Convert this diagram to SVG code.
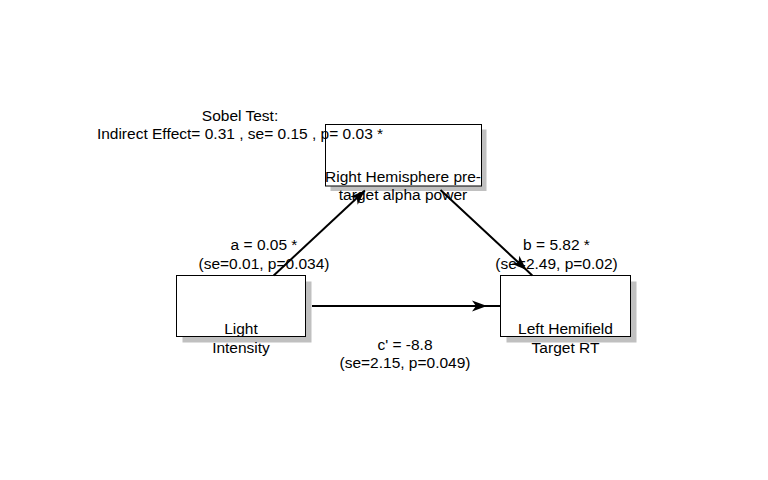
<svg xmlns="http://www.w3.org/2000/svg" width="768" height="480" viewBox="0 0 768 480">
<defs>
<style>
text{font-family:"Liberation Sans",Arial,sans-serif;font-size:15.5px;fill:#000;text-anchor:middle}
.shadow{fill:#c0c0c0;stroke:none}
.box{fill:#fff;stroke:#000;stroke-width:1}
.conn{fill:none;stroke:#000;stroke-width:2}
</style>
<marker id="arr" markerUnits="userSpaceOnUse" markerWidth="20" markerHeight="14" viewBox="-16 -7 17 14" refX="0" refY="0" orient="auto">
<path d="M0,0 L-15,-5.5 L-11,0 L-15,5.5 Z" fill="#000"/>
</marker>
</defs>
<rect width="768" height="480" fill="#fff"/>
<g id="node-mediator">
<rect class="shadow" x="330.5" y="129.5" width="156" height="61.5"/>
<rect class="box" x="325.5" y="124.5" width="156" height="61.5"/>
</g>
<g id="node-x">
<rect class="shadow" x="182.5" y="281.5" width="129" height="61"/>
<rect class="box" x="176.5" y="275.5" width="129" height="61"/>
</g>
<g id="node-y">
<rect class="shadow" x="506.5" y="281.5" width="130" height="61"/>
<rect class="box" x="500.5" y="275.5" width="130" height="61"/>
</g>
<g id="connectors">
<path class="conn" d="M273.7,275.5 L364.9,190.5" marker-end="url(#arr)"/>
<path class="conn" d="M440.5,190 L526.5,270 L532.3,275.5" marker-mid="url(#arr)"/>
<path class="conn" d="M312,306 L487,306 L500,306" marker-mid="url(#arr)"/>
</g>
<g id="labels">
<text x="240" y="120.5">Sobel Test:</text>
<text x="240" y="139.3">Indirect Effect= 0.31 , se= 0.15 , p= 0.03 *</text>
<text x="403" y="182">Right Hemisphere pre-</text>
<text x="403" y="200">target alpha power</text>
<text x="241" y="334">Light</text>
<text x="241" y="352.5">Intensity</text>
<text x="565.5" y="334">Left Hemifield</text>
<text x="565.5" y="352.5">Target RT</text>
<text x="264" y="250">a = 0.05 *</text>
<text x="264" y="268.5">(se=0.01, p=0.034)</text>
<text x="556.5" y="250">b = 5.82 *</text>
<text x="556.5" y="269">(se=2.49, p=0.02)</text>
<text x="405" y="349.5">c' = -8.8</text>
<text x="405" y="367.5">(se=2.15, p=0.049)</text>
</g>
</svg>
